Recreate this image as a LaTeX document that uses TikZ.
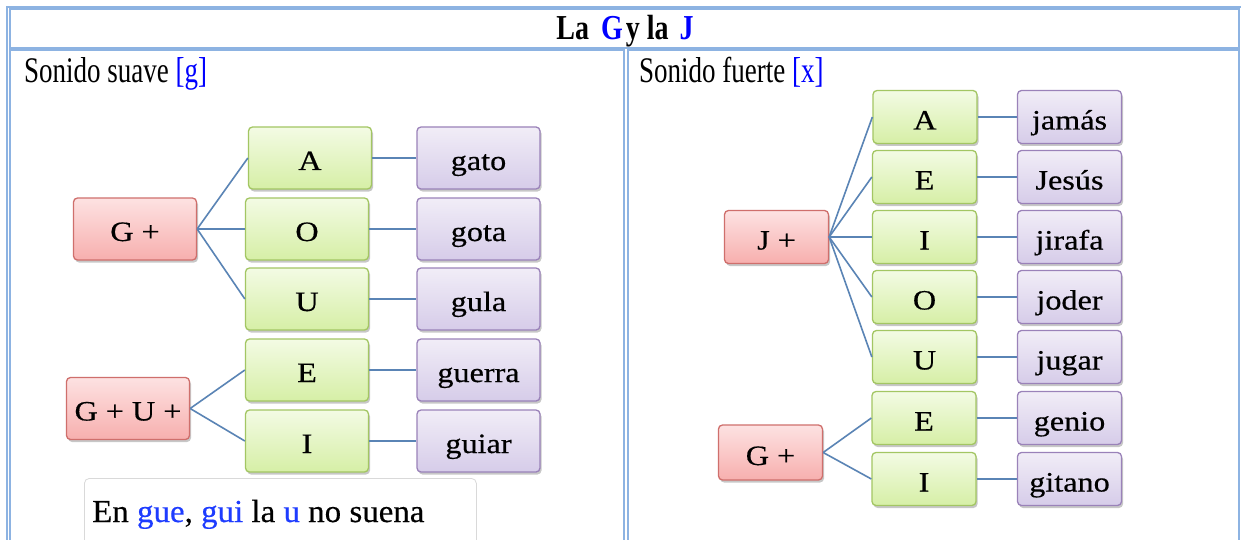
\documentclass[tikz,border=0pt]{standalone}
\usepackage{fontspec}
\setmainfont{Liberation Serif}
\newfontfamily\ttlfont[FakeStretch=0.8]{Liberation Serif}
\newfontfamily\hdfont[FakeStretch=0.75]{Liberation Serif}
\newfontfamily\nfont[FakeStretch=1.15,FakeBold=0.5]{Liberation Serif}
\newfontfamily\notefont[FakeStretch=1.03,FakeBold=0.4]{Liberation Serif}
\usetikzlibrary{shadows}
\definecolor{tblue}{HTML}{8DB3E2}
\definecolor{hblue}{HTML}{0000FF}
\definecolor{nblue}{HTML}{1E3CFF}
\definecolor{connC}{HTML}{5A84B5}
\definecolor{redD}{HTML}{CF6F6C}
\definecolor{redT}{HTML}{FDE2E2}
\definecolor{redB}{HTML}{F7AFAE}
\definecolor{grnD}{HTML}{A3C663}
\definecolor{grnT}{HTML}{F3FBE4}
\definecolor{grnB}{HTML}{D6EFA6}
\definecolor{purD}{HTML}{9A82B9}
\definecolor{purT}{HTML}{F1EDF7}
\definecolor{purB}{HTML}{D6CCE9}
\tikzset{
  tline/.style={draw=tblue, line width=2pt},
  box/.style={rounded corners=4pt, inner sep=0pt, line width=1.3pt,
    font=\nfont\fontsize{28}{30}\selectfont, text height=24pt, text depth=0pt,
    drop shadow={shadow xshift=1.5pt, shadow yshift=-2.5pt, opacity=0.22, fill=black}},
  big/.style={minimum width=123pt, minimum height=62pt},
  small/.style={minimum width=104pt, minimum height=53pt, text height=25pt},
  redbox/.style={box, draw=redD, top color=redT, bottom color=redB},
  grnbox/.style={box, draw=grnD, top color=grnT, bottom color=grnB},
  purbox/.style={box, draw=purD, top color=purT, bottom color=purB},
  conn/.style={draw=connC, line width=1.6pt},
  hdr/.style={anchor=base west, inner sep=0pt, font=\hdfont\fontsize{36}{38}\selectfont}
}
\begin{document}
\begin{tikzpicture}[x=1pt,y=-1pt]
\clip (0,0) rectangle (1241,540);
\fill[white] (0,0) rectangle (1241,540);
% table lines
\draw[tline] (7,7.5) -- (7,545);
\draw[tline] (6,7.5) -- (1241,7.5);
\draw[tline] (10,9.5) rectangle (1239,48.5);
\draw[tline] (10,545) |- (624,50.5) -- (624,545);
\draw[tline] (627.5,545) |- (1239,50.5) -- (1239,545);
% title and headers
\node[anchor=base, inner sep=0pt, font=\ttlfont\bfseries\fontsize{35}{38}\selectfont] (title) at (625,40)
  {La\hspace{12pt}\textcolor{hblue}{G}\hspace{3pt}y la\hspace{11pt}\textcolor{hblue}{J}};
\node[hdr] (hleft) at (24,83) {Sonido suave \textcolor{hblue}{[g]}};
\node[hdr] (hright) at (639,83) {Sonido fuerte \textcolor{hblue}{[x]}};
% left panel
\node[redbox, big] (lg) at (135,229) {G +};
\node[redbox, big] (lgu) at (128,408.5) {G + U +};
\node[grnbox, big] (la) at (310,158) {A};
\node[grnbox, big] (lo) at (307,229) {O};
\node[grnbox, big] (lu) at (307,299) {U};
\node[grnbox, big] (le) at (307,370) {E};
\node[grnbox, big] (li) at (307,441) {I};
\node[purbox, big] (wa) at (478.5,158) {gato};
\node[purbox, big] (wo) at (478.5,229) {gota};
\node[purbox, big] (wu) at (478.5,299) {gula};
\node[purbox, big] (we) at (478.5,370) {guerra};
\node[purbox, big] (wi) at (478.5,441) {guiar};
\foreach \t in {la,lo,lu} \draw[conn] (lg.east) -- (\t.west);
\foreach \t in {le,li} \draw[conn] (lgu.east) -- (\t.west);
\draw[conn] (la.east) -- (wa.west);
\draw[conn] (lo.east) -- (wo.west);
\draw[conn] (lu.east) -- (wu.west);
\draw[conn] (le.east) -- (we.west);
\draw[conn] (li.east) -- (wi.west);
% note
\node[draw=black!15, line width=0.8pt, rounded corners=5pt, anchor=north west, minimum width=392pt, minimum height=80pt, inner sep=0pt] (note) at (84,478) {};
\node[anchor=base west, inner sep=0pt, font=\notefont\fontsize{32}{34}\selectfont] (notetxt) at (92,522)
  {En \textcolor{nblue}{gue}, \textcolor{nblue}{gui} la \textcolor{nblue}{u} no suena};
% right panel
\node[redbox, small] (rj) at (776.5,237) {J +};
\node[redbox, small, minimum height=55pt] (rg) at (770.5,452.5) {G +};
\node[grnbox, small] (ra) at (925,117) {A};
\node[grnbox, small] (re) at (924.5,177) {E};
\node[grnbox, small] (ri) at (924.5,237) {I};
\node[grnbox, small] (ro) at (924.5,297) {O};
\node[grnbox, small] (ru) at (924.5,357) {U};
\node[grnbox, small] (rge) at (924,418) {E};
\node[grnbox, small] (rgi) at (924,479) {I};
\node[purbox, small] (va) at (1069.5,117) {jamás};
\node[purbox, small] (ve) at (1069.5,177) {Jesús};
\node[purbox, small] (vi) at (1069.5,237) {jirafa};
\node[purbox, small] (vo) at (1069.5,297) {joder};
\node[purbox, small] (vu) at (1069.5,357) {jugar};
\node[purbox, small] (vge) at (1069.5,418) {genio};
\node[purbox, small] (vgi) at (1069.5,479) {gitano};
\foreach \t in {ra,re,ri,ro,ru} \draw[conn] (rj.east) -- (\t.west);
\foreach \t in {rge,rgi} \draw[conn] (rg.east) -- (\t.west);
\draw[conn] (ra.east) -- (va.west);
\draw[conn] (re.east) -- (ve.west);
\draw[conn] (ri.east) -- (vi.west);
\draw[conn] (ro.east) -- (vo.west);
\draw[conn] (ru.east) -- (vu.west);
\draw[conn] (rge.east) -- (vge.west);
\draw[conn] (rgi.east) -- (vgi.west);
\end{tikzpicture}
\end{document}
